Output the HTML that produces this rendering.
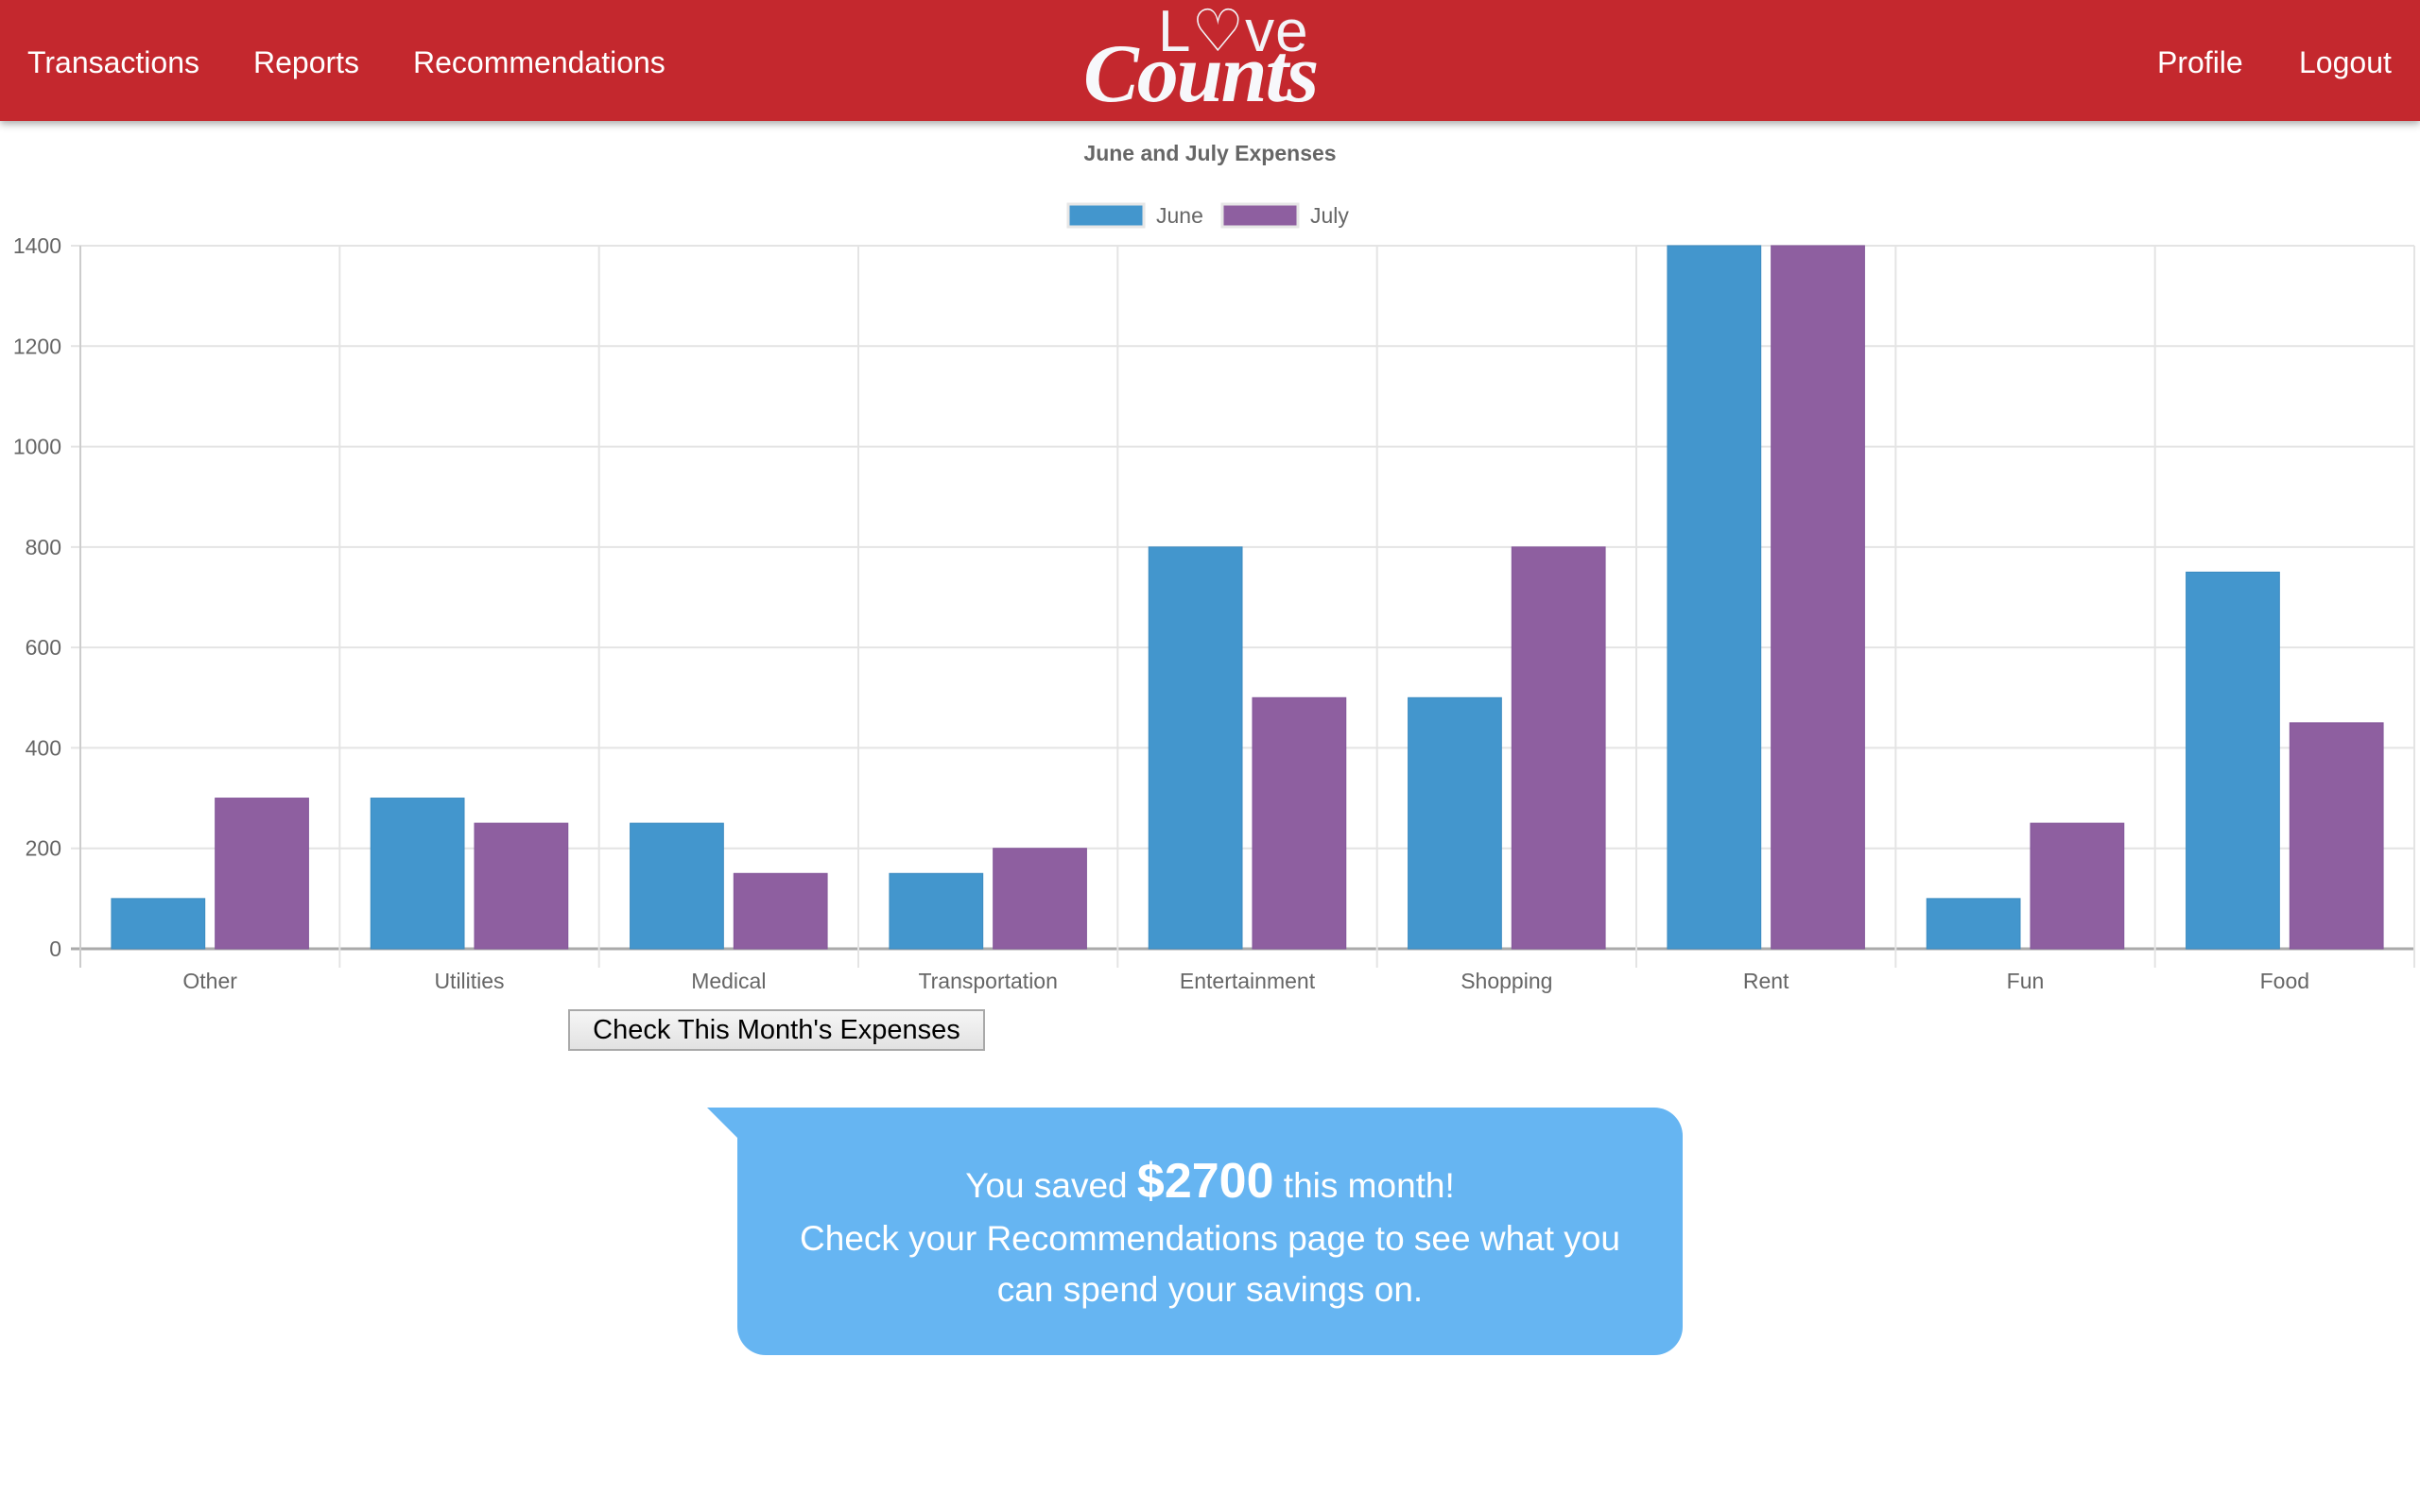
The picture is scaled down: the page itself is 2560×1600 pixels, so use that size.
<!DOCTYPE html>
<html><head><meta charset="utf-8">
<style>
html,body{margin:0;padding:0;width:2560px;height:1600px;overflow:hidden;background:#fff;font-family:"Liberation Sans",sans-serif;}
#nav{position:absolute;left:0;top:0;width:2560px;height:128px;background:#c4282e;box-shadow:0 3px 8px rgba(0,0,0,0.35);}
.nl{position:absolute;top:46px;color:#fff;font-size:32px;line-height:40px;white-space:nowrap;}
#logo1{position:absolute;left:1225px;top:-4px;color:#f3f4f8;font-size:62px;font-weight:300;letter-spacing:1px;}
#logo2{position:absolute;left:1146px;top:28px;color:#f7f8fb;font-size:88px;font-weight:bold;font-style:italic;font-family:"Liberation Serif",serif;letter-spacing:-2px;}
#btn{position:absolute;left:601px;top:1068px;width:441px;height:44px;box-sizing:border-box;border:2px solid #a9a9a9;background:linear-gradient(#f6f6f6,#e2e2e2);font-size:29px;line-height:40px;text-align:center;color:#000;padding:0;}
#bubble{position:absolute;left:780px;top:1172px;width:1000px;height:262px;background:#66b5f2;border-radius:30px;border-top-left-radius:0;color:#fff;text-align:center;}
#tail{position:absolute;left:748px;top:1172px;width:0;height:0;border-top:34px solid #66b5f2;border-left:34px solid transparent;}
.bl{position:absolute;left:0;width:1000px;font-size:37px;white-space:nowrap;}
</style></head><body>
<div id="nav">
  <div class="nl" style="left:29px">Transactions</div>
  <div class="nl" style="left:268px">Reports</div>
  <div class="nl" style="left:437px">Recommendations</div>
  <div class="nl" style="left:2282px">Profile</div>
  <div class="nl" style="left:2432px">Logout</div>
  <div id="logo1">L&#9825;ve</div>
  <div id="logo2">Counts</div>
</div>
<svg id="chart" width="2560" height="1060" style="position:absolute;left:0;top:0"></svg>
<button id="btn">Check This Month's Expenses</button>
<div id="tail"></div>
<div id="bubble">
  <div class="bl" style="top:48px">You saved <b style="font-size:52px">$2700</b> this month!</div>
  <div class="bl" style="top:118px">Check your Recommendations page to see what you</div>
  <div class="bl" style="top:172px">can spend your savings on.</div>
</div>
<script>
const categories=["Other","Utilities","Medical","Transportation","Entertainment","Shopping","Rent","Fun","Food"];
const juneValues=[100,300,250,150,800,500,1400,100,750];
const julyValues=[300,250,150,200,500,800,1400,250,450];
const yTicks=[0,200,400,600,800,1000,1200,1400];
const seriesNames=["June","July"];
const NS="http://www.w3.org/2000/svg";
const svg=document.getElementById('chart');
const X0=85,X1=2554,Y0=1004,Y1=260,YMAX=1400;
const cw=(X1-X0)/categories.length;
const y=v=>Y0-(v/YMAX)*(Y0-Y1);
function mk(t,a){const e=document.createElementNS(NS,t);for(const k in a)e.setAttribute(k,a[k]);svg.appendChild(e);return e;}
let t=mk('text',{x:1280,y:170,'text-anchor':'middle','font-size':'23','font-weight':'bold',fill:'#666'});t.textContent="June and July Expenses";


const colors=["#4396cd","#8e5fa0"],borders=["#3c8bc0","#84579a"];
[[1130,1223],[1293,1386]].forEach((p,i)=>{
  let r=mk('rect',{x:p[0],y:216,width:80,height:24,fill:colors[i],stroke:'#e6e6e6','stroke-width':3});
  
  
  let l=mk('text',{x:p[1],y:236,'font-size':'23',fill:'#666'});l.textContent=seriesNames[i];
  
  
});
yTicks.forEach(v=>{
  let g=mk('line',{x1:X0-10,x2:X1,y1:y(v),y2:y(v),stroke:v===0?'#aaa':'#e4e4e4','stroke-width':v===0?3:2});
  
  
  let l=mk('text',{x:65,y:y(v)+8,'text-anchor':'end','font-size':'23',fill:'#666'});l.textContent=v;
  
  
});
for(let i=0;i<=categories.length;i++){
  let g=mk('line',{x1:X0+i*cw,x2:X0+i*cw,y1:Y1,y2:1024,stroke:'#e4e4e4','stroke-width':2});
  
  
}
const bw=cw*0.8/2*0.9,off=cw*0.1+cw*0.4*0.05;
categories.forEach((c,i)=>{
  [juneValues[i],julyValues[i]].forEach((v,s)=>{
    let bx=X0+i*cw+off+s*cw*0.4;
    let b=mk('rect',{x:bx,y:y(v),width:bw,height:Y0-y(v),fill:colors[s],stroke:borders[s],'stroke-width':1});
    
    
  });
  let l=mk('text',{x:X0+(i+0.5)*cw,y:1046,'text-anchor':'middle','font-size':'23',fill:'#666'});l.textContent=c;
  
  
});
let ax=mk('line',{x1:X0,x2:X0,y1:Y1,y2:1024,stroke:'#ccc','stroke-width':2});


</script>
</body></html>
